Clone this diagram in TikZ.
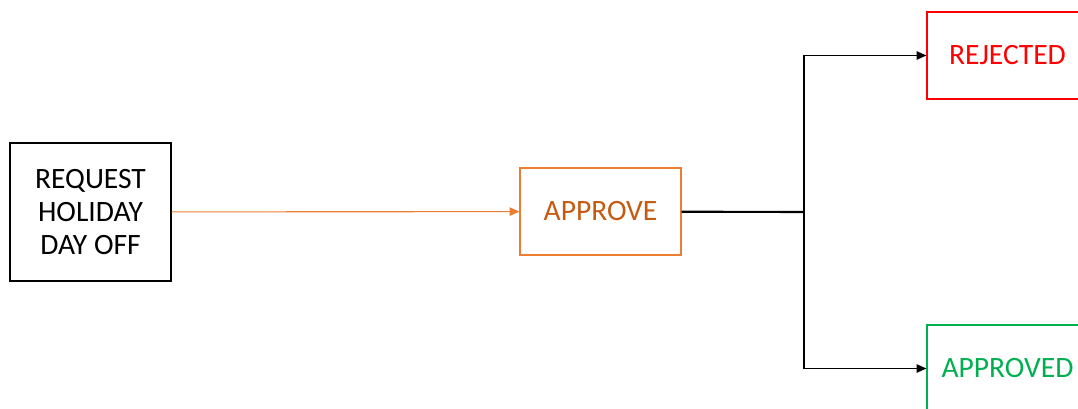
\documentclass[tikz,border=0pt]{standalone}
\usepackage{fontspec}
\setmainfont{Carlito}
\usepackage{xcolor}
\usetikzlibrary{arrows.meta, positioning}

\definecolor{orangeline}{HTML}{ED7D31}
\definecolor{orangetext}{HTML}{C55A11}
\definecolor{okgreen}{HTML}{00B050}

\begin{document}
\begin{tikzpicture}[
    x=0.025cm, y=-0.025cm,
    >={Triangle[length=7pt, width=6pt]},
    every node/.style={font=\fontsize{21}{23.5}\selectfont},
    task/.style={draw, rectangle, line width=0.8pt, align=center,
                 minimum width=4.025cm, minimum height=2.175cm, inner sep=0pt},
]
    \useasboundingbox (0,0) rectangle (1078,408);
    \clip (0,0) rectangle (1078,408);

    % Request (left)
    \node[task, minimum height=3.45cm] (Req) at (90.5,212) {REQUEST\\HOLIDAY\\DAY OFF};

    % Decision (middle)
    \node[task, draw=orangeline, text=orangetext] (Appr) at (600.5,211.5) {APPROVE};

    % Outcomes (right column)
    \node[task, draw=red, text=red] (Rej) at (1007.5,55.5) {REJECTED};
    \node[task, draw=okgreen, text=okgreen] (Ok) at (1007.5,368.5) {APPROVED};

    % Junction
    \coordinate (J) at (804,212);

    % Connectors
    \draw[->, orangeline, line width=0.8pt] (Req) -- (Appr);
    \draw[line width=1.5pt] (Appr) -- (J);
    \draw[->, line width=1pt] (J) |- (Rej);
    \draw[->, line width=1pt] (J) |- (Ok);
\end{tikzpicture}
\end{document}
